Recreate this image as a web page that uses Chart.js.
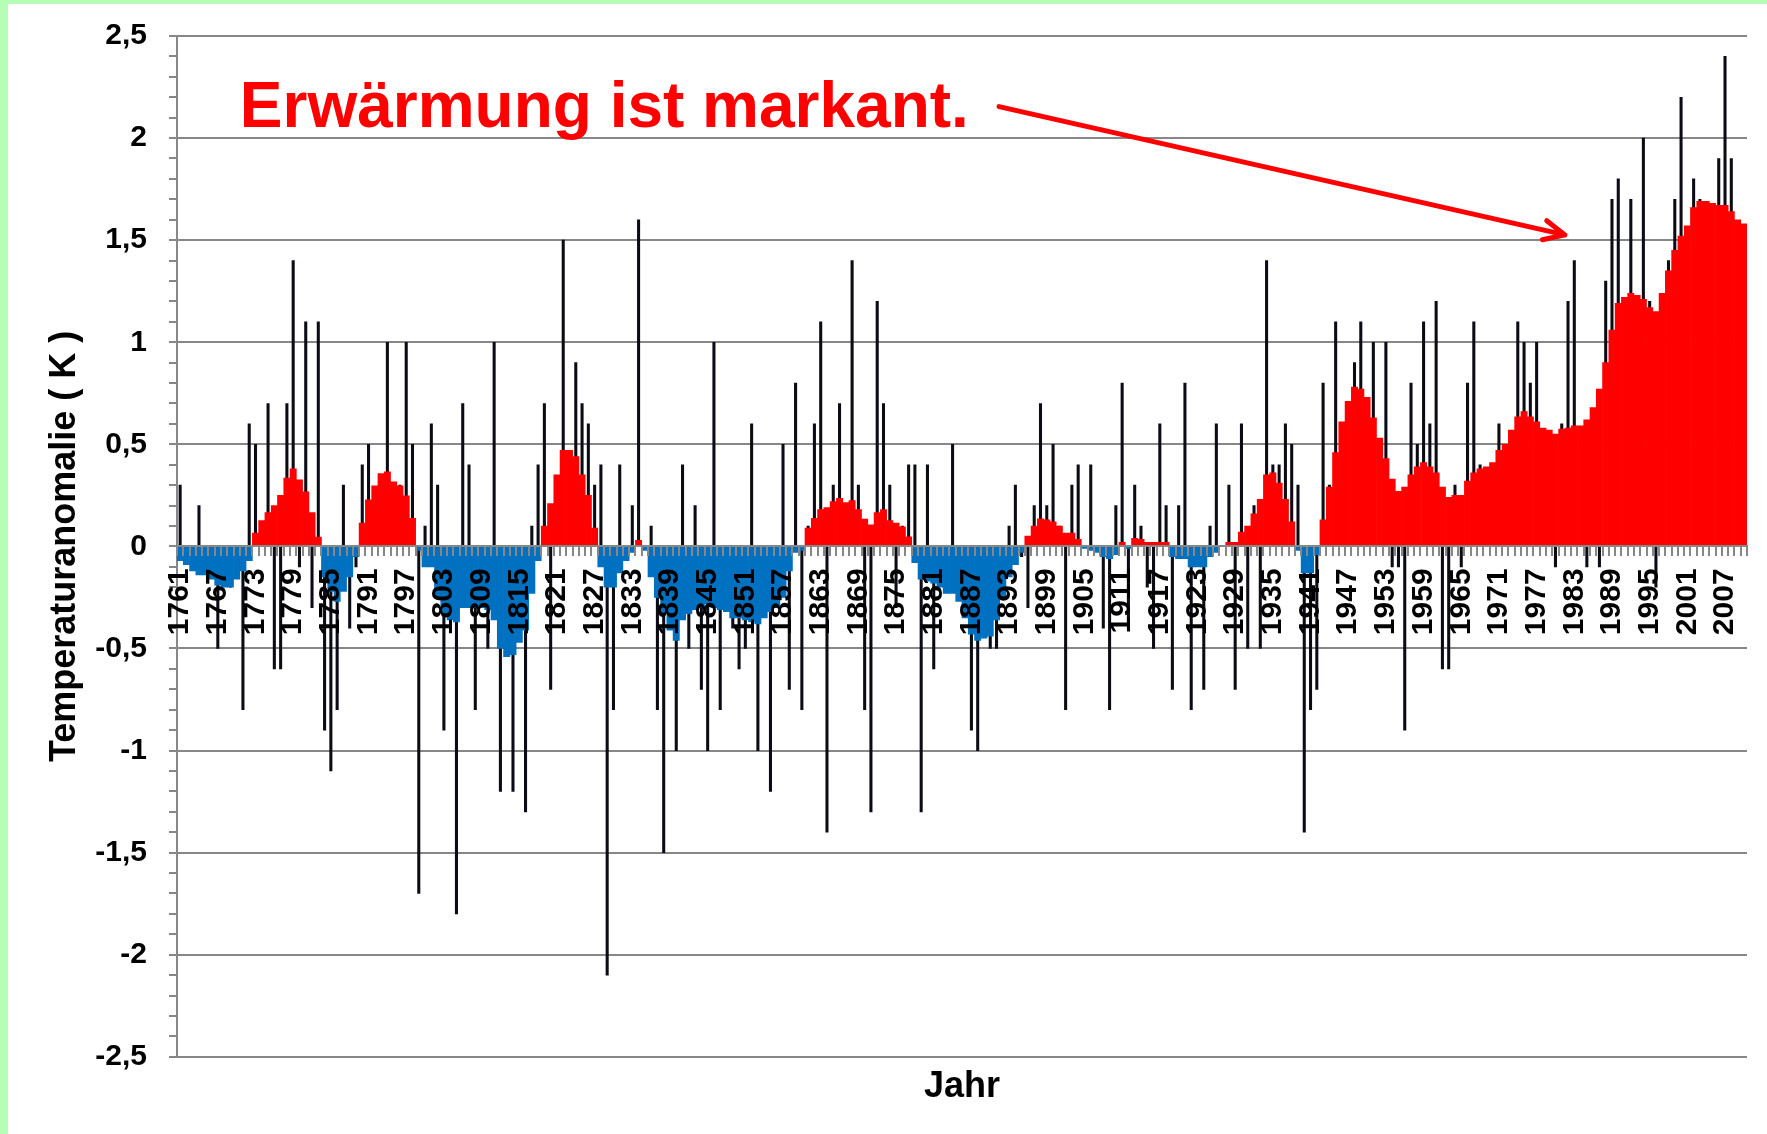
<!DOCTYPE html>
<html lang="de">
<head>
<meta charset="utf-8">
<title>Temperaturanomalie</title>
<script src="https://cdn.jsdelivr.net/npm/chart.js@4.4.1/dist/chart.umd.min.js"></script>
<style>
  html, body { margin: 0; padding: 0; }
  body { width: 1767px; height: 1134px; background: #b6fdb6; position: relative; overflow: hidden; }
  #wrap { position: absolute; left: 8px; top: 4px; width: 1759px; height: 1130px; background: #fff; }
</style>
</head>
<body>
<div id="wrap"><canvas id="chart" width="1759" height="1130"></canvas></div>
<script>
const firstYear = 1761;
const years = Array.from({ length: 250 }, (_, i) => String(firstYear + i));
const labelStep = 6;

// geglaettete Anomalie (rote/blaue Balken)
const smoothed = [
  -0.07, -0.09, -0.12, -0.14, -0.14, -0.16, -0.19, -0.2, -0.2, -0.16,
  -0.12, -0.07, 0.065, 0.127, 0.166, 0.2, 0.25, 0.335, 0.38, 0.326,
  0.267, 0.166, 0.046, -0.15, -0.22, -0.27, -0.22, -0.15, -0.05, 0.114,
  0.228, 0.297, 0.357, 0.365, 0.316, 0.297, 0.248, 0.137, -0.02, -0.1,
  -0.1, -0.25, -0.33, -0.36, -0.37, -0.3, -0.3, -0.3, -0.3, -0.31,
  -0.36, -0.5, -0.54, -0.53, -0.47, -0.41, -0.23, -0.07, 0.1, 0.21,
  0.35, 0.47, 0.47, 0.44, 0.35, 0.25, 0.09, -0.1, -0.2, -0.2,
  -0.13, -0.07, -0.03, 0.03, -0.02, -0.15, -0.25, -0.33, -0.41, -0.46,
  -0.36, -0.33, -0.31, -0.3, -0.28, -0.3, -0.31, -0.32, -0.35, -0.35,
  -0.36, -0.37, -0.38, -0.35, -0.32, -0.3, -0.25, -0.12, -0.03, -0.02,
  0.09, 0.137, 0.18, 0.19, 0.22, 0.235, 0.215, 0.225, 0.18, 0.134,
  0.106, 0.166, 0.18, 0.126, 0.114, 0.096, 0.047, -0.08, -0.16, -0.17,
  -0.18, -0.2, -0.23, -0.23, -0.27, -0.35, -0.43, -0.46, -0.45, -0.44,
  -0.36, -0.25, -0.15, -0.09, -0.03, 0.05, 0.1, 0.135, 0.13, 0.12,
  0.1, 0.065, 0.065, 0.035, -0.01, -0.02, -0.03, -0.05, -0.06, -0.04,
  0.02, -0.01, 0.04, 0.035, 0.02, 0.02, 0.02, 0.02, -0.05, -0.06,
  -0.06, -0.1, -0.1, -0.1, -0.05, -0.03, 0, 0.02, 0.02, 0.07,
  0.1, 0.16, 0.23, 0.35, 0.36, 0.31, 0.23, 0.12, -0.02, -0.13,
  -0.13, -0.04, 0.13, 0.29, 0.46, 0.61, 0.71, 0.78, 0.77, 0.73,
  0.63, 0.53, 0.43, 0.33, 0.27, 0.29, 0.35, 0.39, 0.41, 0.39,
  0.36, 0.29, 0.24, 0.25, 0.25, 0.32, 0.36, 0.38, 0.39, 0.41,
  0.47, 0.5, 0.57, 0.635, 0.66, 0.635, 0.61, 0.58, 0.57, 0.55,
  0.575, 0.58, 0.59, 0.59, 0.62, 0.68, 0.77, 0.9, 1.06, 1.19,
  1.22, 1.24, 1.23, 1.21, 1.17, 1.15, 1.24, 1.35, 1.45, 1.52,
  1.57, 1.66, 1.69, 1.69, 1.68, 1.67, 1.67, 1.64, 1.6, 1.58,
];

// Jahreswerte (duenne schwarze Linien)
const annual = [
  0.3, -0.05, -0.1, 0.2, -0.1, -0.1, -0.5, -0.1, -0.2, -0.1,
  -0.8, 0.6, 0.5, 0.1, 0.7, -0.6, -0.6, 0.7, 1.4, -0.1,
  1.1, -0.3, 1.1, -0.9, -1.1, -0.8, 0.3, -0.4, -0.1, 0.4,
  0.5, 0.2, 0.3, 1.0, 0.3, 0.3, 1.0, 0.5, -1.7, 0.1,
  0.6, 0.3, -0.9, -0.2, -1.8, 0.7, 0.4, -0.8, -0.2, -0.5,
  1.0, -1.2, -0.3, -1.2, -0.3, -1.3, 0.1, 0.4, 0.7, -0.7,
  0.2, 1.5, 0.3, 0.9, 0.7, 0.6, 0.3, 0.4, -2.1, -0.8,
  0.4, -0.05, 0.2, 1.6, 0.0, 0.1, -0.8, -1.5, -0.3, -1.0,
  0.4, -0.5, 0.2, -0.7, -1.0, 1.0, -0.8, -0.2, -0.4, -0.6,
  -0.5, 0.6, -1.0, -0.2, -1.2, -0.2, 0.5, -0.7, 0.8, -0.8,
  0.1, 0.6, 1.1, -1.4, 0.3, 0.7, 0.2, 1.4, 0.3, -0.8,
  -1.3, 1.2, 0.7, 0.3, -0.3, 0.1, 0.4, 0.4, -1.3, 0.4,
  -0.6, -0.1, -0.2, 0.5, -0.2, -0.3, -0.9, -1.0, -0.4, -0.5,
  -0.5, -0.2, 0.1, 0.3, -0.05, -0.3, 0.2, 0.7, 0.2, 0.5,
  0.1, -0.8, 0.3, 0.4, 0.0, 0.4, 0.0, -0.4, -0.8, 0.2,
  0.8, -0.4, 0.3, 0.1, -0.2, -0.5, 0.6, 0.2, -0.7, 0.2,
  0.8, -0.8, -0.05, -0.7, 0.1, 0.6, 0.0, 0.3, -0.7, 0.6,
  -0.5, 0.2, -0.5, 1.4, 0.4, 0.4, 0.6, 0.5, 0.3, -1.4,
  -0.8, -0.7, 0.8, 0.3, 1.1, 0.5, 0.6, 0.9, 1.1, 0.6,
  1.0, 0.4, 1.0, -0.1, -0.1, -0.9, 0.8, 0.5, 1.1, 0.6,
  1.2, -0.6, -0.6, 0.3, -0.1, 0.8, 1.1, 0.4, 0.3, 0.3,
  0.6, 0.4, 0.5, 1.1, 1.0, 0.8, 1.0, 0.5, 0.4, -0.1,
  0.6, 1.2, 1.4, 0.5, -0.1, 0.6, -0.1, 1.3, 1.7, 1.8,
  1.1, 1.7, 1.0, 2.0, 1.2, -0.2, 1.0, 1.4, 1.7, 2.2,
  1.5, 1.8, 1.7, 1.6, 1.5, 1.9, 2.4, 1.9, 1.4, 1.3,
];

const noteText = 'Erwärmung ist markant.';
const noteAt = [9.5, 2.056];       // [Jahr-Index, Wert] linke Grundlinie
const arrowFrom = [130.4, 2.154];
const arrowTo = [220.5, 1.526];

const red = '#ff0000';
const blue = '#0070c0';
const gray = '#878787';

Chart.defaults.font.family = '"Liberation Sans", Arial, sans-serif';

const isMajor = (v) => Math.abs(Math.round(v * 10)) % 5 === 0;
const formatDe = (v) => String(Math.round(v * 10) / 10).replace('.', ',');

function clearScalePadding(scale) {
  scale.paddingTop = 0;
  scale.paddingBottom = 0;
  scale.paddingLeft = 0;
  scale.paddingRight = 0;
}

const annotationPlugin = {
  id: 'annotation',
  afterDraw(chart) {
    const { ctx } = chart;
    const { x, y } = chart.scales;
    ctx.save();
    ctx.fillStyle = red;
    ctx.font = 'bold 64px "Liberation Sans", Arial, sans-serif';
    ctx.textBaseline = 'alphabetic';
    ctx.fillText(noteText, x.getPixelForValue(noteAt[0]), y.getPixelForValue(noteAt[1]));

    const x1 = x.getPixelForValue(arrowFrom[0]);
    const y1 = y.getPixelForValue(arrowFrom[1]);
    const x2 = x.getPixelForValue(arrowTo[0]);
    const y2 = y.getPixelForValue(arrowTo[1]);
    const angle = Math.atan2(y2 - y1, x2 - x1);
    const head = 23;
    ctx.strokeStyle = red;
    ctx.lineWidth = 5;
    ctx.lineCap = 'round';
    ctx.lineJoin = 'round';
    ctx.beginPath();
    ctx.moveTo(x1, y1);
    ctx.lineTo(x2, y2);
    ctx.moveTo(x2 - head * Math.cos(angle - 0.44), y2 - head * Math.sin(angle - 0.44));
    ctx.lineTo(x2, y2);
    ctx.lineTo(x2 - head * Math.cos(angle + 0.44), y2 - head * Math.sin(angle + 0.44));
    ctx.stroke();
    ctx.restore();
  },
};

new Chart(document.getElementById('chart'), {
  type: 'bar',
  data: {
    labels: years,
    datasets: [
      {
        label: 'warm',
        data: smoothed.map((v) => (v > 0 ? v : null)),
        backgroundColor: red,
        grouped: false,
        barPercentage: 1,
        categoryPercentage: 1,
      },
      {
        label: 'kalt',
        data: smoothed.map((v) => (v < 0 ? v : null)),
        backgroundColor: blue,
        grouped: false,
        barPercentage: 1,
        categoryPercentage: 1,
      },
      {
        label: 'Jahreswert',
        data: annual,
        backgroundColor: '#0b0b16',
        grouped: false,
        barThickness: 2.4,
      },
    ],
  },
  options: {
    responsive: false,
    animation: false,
    devicePixelRatio: 1,
    layout: { padding: { top: 32, right: 20, bottom: 0, left: 0 } },
    plugins: {
      legend: { display: false },
      tooltip: { enabled: false },
      title: {
        display: true,
        text: 'Jahr',
        position: 'bottom',
        fullSize: false,
        color: '#000',
        font: { size: 36, weight: 'bold' },
        padding: { top: 9, bottom: 25 },
      },
    },
    scales: {
      x: {
        position: { y: 0 },
        offset: true,
        grid: {
          drawOnChartArea: false,
          drawTicks: true,
          tickLength: 9,
          tickColor: gray,
          lineWidth: 2,
          offset: true,
          z: 1,
        },
        border: { display: true, color: gray, width: 2, z: 1 },
        ticks: {
          autoSkip: false,
          minRotation: 90,
          maxRotation: 90,
          padding: 13,
          color: '#000',
          font: { size: 30, weight: 'bold' },
          z: 2,
          callback: (value, index) => (index % labelStep === 0 ? years[index] : ''),
        },
        afterFit(scale) {
          scale.height = 0;
          clearScalePadding(scale);
        },
      },
      y: {
        min: -2.5,
        max: 2.5,
        grid: {
          color: (ctx) => (ctx.tick && isMajor(ctx.tick.value) ? gray : 'rgba(0,0,0,0)'),
          tickColor: gray,
          lineWidth: 2,
          tickLength: 8,
          drawTicks: true,
        },
        border: { display: true, color: gray, width: 2 },
        ticks: {
          stepSize: 0.1,
          autoSkip: false,
          padding: 22,
          color: '#000',
          font: { size: 30, weight: 'bold' },
          callback: (v) => (isMajor(v) ? formatDe(v) : ''),
        },
        title: {
          display: true,
          text: 'Temperaturanomalie ( K )',
          color: '#000',
          font: { size: 36, weight: 'bold', lineHeight: 1 },
          padding: { top: 39, bottom: 0 },
        },
        afterFit(scale) {
          scale.width = 169;
          clearScalePadding(scale);
        },
      },
    },
  },
  plugins: [annotationPlugin],
});
</script>
</body>
</html>
